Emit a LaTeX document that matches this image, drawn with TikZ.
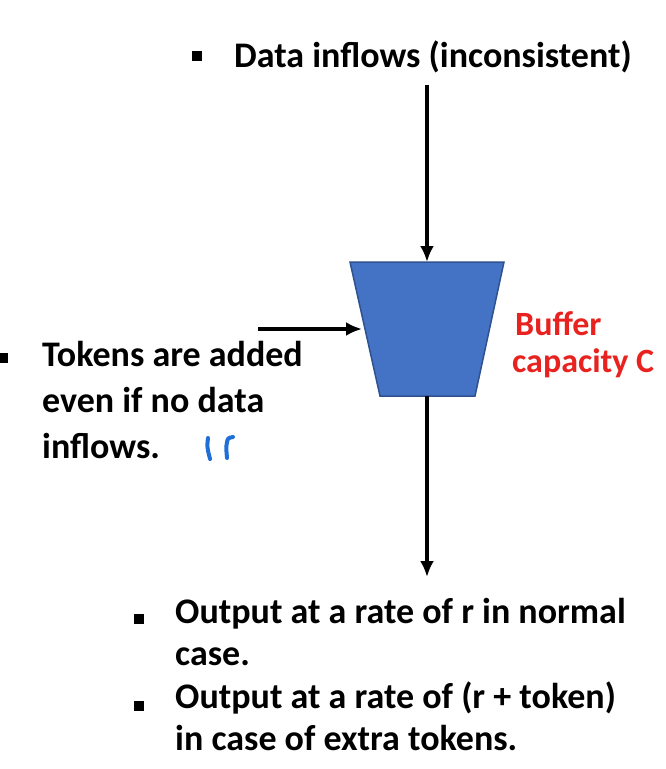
\documentclass[tikz,border=0pt]{standalone}
\usepackage{fontspec}
\setmainfont{Carlito}
\usetikzlibrary{arrows.meta}
\definecolor{bufblue}{HTML}{4472C4}
\definecolor{bufedge}{HTML}{2F528F}
\definecolor{capred}{HTML}{E8231F}
\definecolor{penblue}{HTML}{1F6FD6}
\begin{document}
\begin{tikzpicture}[x=1pt,y=-1pt,
  txt/.style={anchor=base west,inner sep=0pt,font=\fontsize{36}{44}\selectfont\bfseries},
  redtxt/.style={anchor=base west,inner sep=0pt,text=capred,font=\fontsize{34}{40}\selectfont\bfseries},
  bul/.style={fill=black,draw=none,minimum size=10pt,inner sep=0pt},
  flow/.style={line width=3.6pt,-{Latex[length=16pt,width=14pt]}},
  pen/.style={penblue,line width=4pt,line cap=round},
  buffer/.style={fill=bufblue,draw=bufedge,line width=1.5pt}]
\useasboundingbox (0,0) rectangle (666,769);
% buffer
\coordinate (tl) at (350,262);
\coordinate (tr) at (504,262);
\coordinate (br) at (475,396);
\coordinate (bl) at (380,396);
\draw[buffer] (tl) -- (tr) -- (br) -- (bl) -- cycle;
\coordinate (bufTop) at (427,262);
\coordinate (bufLeft) at (362,329);
\coordinate (bufBot) at (427,396);
% top label
\node[bul] (b1) at (197,56) {};
\node[txt] (t1) at (234,67) {Data inflows (inconsistent)};
% left label
\node[bul] (b2) at (3,358) {};
\node[txt] (l1) at (42,366) {Tokens are added};
\node[txt] (l2) at (42,412) {even if no data};
\node[txt] (l3) at (42,458) {inflows.};
% red label
\node[redtxt] (r1) at (515,335) {Buffer};
\node[redtxt] (r2) at (512,372) {capacity C};
% bottom label
\node[bul] (b3) at (139,619) {};
\node[txt] (o1) at (175,623) {Output at a rate of r in normal};
\node[txt] (o2) at (175,665) {case.};
\node[bul] (b4) at (139,706) {};
\node[txt] (o3) at (175,708) {Output at a rate of (r + token)};
\node[txt] (o4) at (175,750) {in case of extra tokens.};
% connectors
\coordinate (inTop) at (427,85);
\coordinate (inLeft) at (258,329);
\coordinate (outBot) at (427,577);
\draw[flow] (inTop) -- (bufTop);
\draw[flow] (inLeft) -- (bufLeft);
\draw[flow] (bufBot) -- (outBot);
% handwritten mark
\draw[pen] (208,438) .. controls (207,447) .. (210,459);
\draw[pen] (227,458) .. controls (226,446) .. (227,442) .. controls (228,438) .. (233,437);
\end{tikzpicture}
\end{document}
